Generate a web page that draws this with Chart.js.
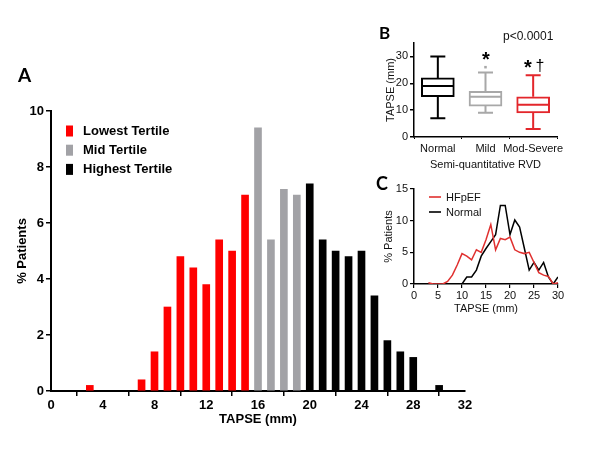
<!DOCTYPE html>
<html>
<head>
<meta charset="utf-8">
<script src="https://cdn.jsdelivr.net/npm/chart.js@4"></script>
<style>
html,body{margin:0;padding:0;background:#fff;}
#wrap{position:relative;width:600px;height:450px;overflow:hidden;background:#fff;}
#wrap canvas{position:absolute;left:0;top:0;}
</style>
</head>
<body>
<div id="wrap">
<canvas id="cA" width="600" height="450"></canvas>
<canvas id="cB" width="600" height="450"></canvas>
<canvas id="cC" width="600" height="450"></canvas>
</div>
<script>
// ---------------- Panel A: TAPSE histogram by tertile ----------------
const tertileLabels = ['Lowest Tertile', 'Mid Tertile', 'Highest Tertile'];
const lowestTapse = [3, 7, 8, 9, 10, 11, 12, 13, 14, 15];
const lowestPct   = [0.2, 0.4, 1.4, 3.0, 4.8, 4.4, 3.8, 5.4, 5.0, 7.0];
const midTapse    = [16, 17, 18, 19];
const midPct      = [9.4, 5.4, 7.2, 7.0];
const highTapse   = [20, 21, 22, 23, 24, 25, 26, 27, 28, 30];
const highPct     = [7.4, 5.4, 5.0, 4.8, 5.0, 3.4, 1.8, 1.4, 1.2, 0.2];
const histXTicks  = [0, 4, 8, 12, 16, 20, 24, 28, 32];
const histYTicks  = [0, 2, 4, 6, 8, 10];

// ---------------- Panel B: box plots by RVD ----------------
const rvdCategories = ['Normal', 'Mild', 'Mod-Severe'];
const boxMin    = [7, 9, 3];
const boxQ1     = [15, 11.5, 9];
const boxMedian = [19, 15, 12];
const boxQ3     = [22, 17, 15];
const boxMax    = [30, 24, 23];
const mildOutlier = [26];
const boxYTicks = [0, 10, 20, 30];

// ---------------- Panel C: distribution lines ----------------
const hfpefTapse = [3, 4, 5, 6, 7, 8, 9, 10, 11, 12, 13, 14, 15, 16, 17, 18, 19, 20, 21, 22, 23, 24, 25, 26, 27, 28, 29, 30];
const hfpefPct   = [0.2, 0, 0, 0, 0.4, 1.4, 3.0, 4.8, 4.4, 3.8, 5.4, 5.0, 7.0, 9.4, 5.4, 7.2, 7.0, 7.4, 5.4, 5.0, 4.8, 5.0, 3.4, 1.8, 1.4, 1.2, 0, 0.2];
const normalTapse = [10, 11, 12, 13, 14, 15, 16, 17, 18, 19, 20, 21, 22, 23, 24, 25, 26, 27, 28, 29, 30];
const normalPct   = [0, 1.1, 1.1, 2.2, 4.4, 5.6, 6.7, 7.8, 12.4, 12.4, 7.8, 10.1, 9.0, 5.6, 2.2, 3.4, 2.2, 3.4, 1.1, 0, 1.1];
const lineXTicks = [0, 5, 10, 15, 20, 25, 30];
const lineYTicks = [0, 5, 10, 15];

// ---------------- styling ----------------
const FONT = "'Liberation Sans', Arial, sans-serif";
const RED = '#ff0000', GRAY = '#a2a2a6', BLACK = '#000000';
const B_COLORS = ['#000000', '#a8a8a8', '#e3262b'];
const C_RED = '#e0302f';

const setTicks = vals => s => { s.ticks = vals.map(v => ({ value: v })); };
const xy = (xs, ys) => xs.map((x, i) => ({ x: x, y: ys[i] }));

// legend plugin (draws from the dataset labels/colours)
const panelLegend = {
  id: 'panelLegend',
  afterDraw(chart, args, o) {
    if (!o || o.x0 === undefined) return;
    const ctx = chart.ctx;
    ctx.save();
    let row = 0;
    chart.data.datasets.forEach(ds => {
      if (ds.noLegend) return;
      const y = o.y0 + row * o.dy;
      if (o.kind === 'box') {
        ctx.fillStyle = ds.backgroundColor;
        ctx.fillRect(o.x0, y - o.h / 2, o.w, o.h);
      } else {
        ctx.strokeStyle = ds.borderColor;
        ctx.lineWidth = 1.6;
        ctx.beginPath();
        ctx.moveTo(o.x0, y); ctx.lineTo(o.x0 + o.w, y);
        ctx.stroke();
      }
      ctx.fillStyle = o.color;
      ctx.font = o.font;
      ctx.textBaseline = 'middle';
      ctx.textAlign = 'left';
      ctx.fillText(ds.label, o.tx, y + 0.5);
      row++;
    });
    ctx.restore();
  }
};
Chart.register(panelLegend);

// ---------------- Chart A ----------------
new Chart(document.getElementById('cA'), {
  type: 'bar',
  data: {
    datasets: [
      { label: tertileLabels[0], data: xy(lowestTapse, lowestPct), backgroundColor: RED },
      { label: tertileLabels[1], data: xy(midTapse, midPct), backgroundColor: GRAY },
      { label: tertileLabels[2], data: xy(highTapse, highPct), backgroundColor: BLACK }
    ]
  },
  options: {
    responsive: false, animation: false, devicePixelRatio: 1,
    layout: { padding: { left: 11, top: 111, right: 135, bottom: 19 } },
    datasets: { bar: { grouped: false, barThickness: 7, borderWidth: 0 } },
    plugins: {
      legend: { display: false }, tooltip: { enabled: false },
      panelLegend: { kind: 'box', x0: 66, y0: 131, dy: 19.2, w: 7, h: 11, tx: 83,
        font: 'bold 13px ' + FONT, color: '#000' }
    },
    scales: {
      x: {
        type: 'linear', min: 0, max: 32, offset: false,
        afterBuildTicks: setTicks(histXTicks),
        afterFit: s => { s.height = 40; },
        grid: { display: true, drawOnChartArea: false, color: '#000', tickLength: 5, lineWidth: 1.5 },
        border: { display: true, color: '#000', width: 2 },
        ticks: { color: '#000', padding: 2, maxRotation: 0, font: { family: FONT, size: 13, weight: 'bold' } },
        title: { display: true, text: 'TAPSE (mm)', color: '#000', font: { family: FONT, size: 13, weight: 'bold' } }
      },
      y: {
        min: 0, max: 10,
        afterBuildTicks: setTicks(histYTicks),
        afterFit: s => { s.width = 40; },
        grid: { display: true, drawOnChartArea: false, color: '#000', tickLength: 5, lineWidth: 1.5 },
        border: { display: true, color: '#000', width: 2 },
        ticks: { color: '#000', padding: 2, font: { family: FONT, size: 13, weight: 'bold' } },
        title: { display: true, text: '% Patients', color: '#000', font: { family: FONT, size: 13, weight: 'bold' } }
      }
    }
  }
});

// ---------------- Chart B ----------------
const whiskers = {
  id: 'whiskers',
  afterDatasetsDraw(chart) {
    const { ctx, scales: { x, y } } = chart;
    ctx.save();
    ctx.lineWidth = 2;
    rvdCategories.forEach((c, i) => {
      const cx = x.getPixelForValue(i + 1);
      const half = 16, cap = 7.5;
      ctx.strokeStyle = B_COLORS[i];
      ctx.beginPath();
      const ym = y.getPixelForValue(boxMedian[i]);
      ctx.moveTo(cx - half, ym); ctx.lineTo(cx + half, ym);
      const yq3 = y.getPixelForValue(boxQ3[i]), ymax = y.getPixelForValue(boxMax[i]);
      ctx.moveTo(cx, yq3); ctx.lineTo(cx, ymax);
      ctx.moveTo(cx - cap, ymax); ctx.lineTo(cx + cap, ymax);
      const yq1 = y.getPixelForValue(boxQ1[i]), ymin = y.getPixelForValue(boxMin[i]);
      ctx.moveTo(cx, yq1); ctx.lineTo(cx, ymin);
      ctx.moveTo(cx - cap, ymin); ctx.lineTo(cx + cap, ymin);
      ctx.stroke();
    });
    ctx.restore();
  }
};

new Chart(document.getElementById('cB'), {
  type: 'bar',
  data: {
    datasets: [
      { label: 'box', noLegend: true,
        data: rvdCategories.map((c, i) => ({ x: i + 1, y: [boxQ1[i], boxQ3[i]] })),
        backgroundColor: '#ffffff', borderColor: B_COLORS, borderWidth: 2, borderSkipped: false,
        barThickness: 33, grouped: false },
      { type: 'scatter', label: 'outlier', noLegend: true,
        data: mildOutlier.map(v => ({ x: 2, y: v })),
        pointStyle: 'rect', pointRadius: 1.8, backgroundColor: B_COLORS[1], borderWidth: 0 }
    ]
  },
  plugins: [whiskers],
  options: {
    responsive: false, animation: false, devicePixelRatio: 1,
    layout: { padding: { left: 380, top: 43, right: 43, bottom: 274 } },
    plugins: { legend: { display: false }, tooltip: { enabled: false } },
    scales: {
      x: {
        type: 'linear', min: 0.5, max: 3.5, offset: false,
        afterBuildTicks: setTicks([1, 2, 3]),
        afterFit: s => { s.height = 39; },
        grid: { display: true, drawOnChartArea: false, drawTicks: true, tickLength: 2, color: '#000' },
        border: { display: true, color: '#000', width: 1.5 },
        ticks: { color: '#111', padding: 3, maxRotation: 0, font: { family: FONT, size: 11 },
          callback: v => rvdCategories[v - 1] },
        title: { display: true, text: 'Semi-quantitative RVD', color: '#111', font: { family: FONT, size: 11 } }
      },
      y: {
        min: 0, max: 35,
        afterBuildTicks: setTicks(boxYTicks),
        afterFit: s => { s.width = 34; },
        grid: { display: true, drawOnChartArea: false, color: '#000', tickLength: 4, lineWidth: 1.5 },
        border: { display: true, color: '#000', width: 1.5 },
        ticks: { color: '#111', padding: 2, font: { family: FONT, size: 11 } },
        title: { display: true, text: 'TAPSE (mm)', color: '#111', font: { family: FONT, size: 11 } }
      }
    }
  }
});

// ---------------- Chart C ----------------
const annotations = {
  id: 'annotations',
  afterDraw(chart) {
    const ctx = chart.ctx;
    ctx.save();
    ctx.fillStyle = '#000';
    ctx.textBaseline = 'alphabetic';
    ctx.textAlign = 'left';
    ctx.font = "bold 19px Lato, 'Liberation Sans', sans-serif";
    ctx.fillText('A', 18, 82);
    ctx.font = "bold 17px Lato, 'Liberation Sans', sans-serif";
    ctx.fillText('B', 379, 39);
    ctx.font = "bold 18px Lato, 'Liberation Sans', sans-serif";
    ctx.fillText('C', 376, 190);
    ctx.font = '12px ' + FONT;
    ctx.fillStyle = '#111';
    ctx.fillText('p<0.0001', 503, 40);
    ctx.fillStyle = '#000';
    ctx.textAlign = 'center';
    ctx.font = 'bold 20px ' + FONT;
    ctx.fillText('*', 486, 66);
    ctx.fillText('*', 528, 74);
    ctx.font = '16px ' + FONT;
    ctx.fillText('\u2020', 540, 71);
    ctx.restore();
  }
};

new Chart(document.getElementById('cC'), {
  type: 'line',
  data: {
    datasets: [
      { label: 'HFpEF', data: xy(hfpefTapse, hfpefPct), borderColor: C_RED, borderWidth: 1.5,
        pointRadius: 0, fill: false, tension: 0 },
      { label: 'Normal', data: xy(normalTapse, normalPct), borderColor: '#000', borderWidth: 1.5,
        pointRadius: 0, fill: false, tension: 0 }
    ]
  },
  plugins: [annotations],
  options: {
    responsive: false, animation: false, devicePixelRatio: 1,
    layout: { padding: { left: 378, top: 189, right: 42, bottom: 130 } },
    plugins: {
      legend: { display: false }, tooltip: { enabled: false },
      panelLegend: { kind: 'line', x0: 429, y0: 197, dy: 15, w: 12, h: 0, tx: 446,
        font: '11px ' + FONT, color: '#111' }
    },
    scales: {
      x: {
        type: 'linear', min: 0, max: 30,
        afterBuildTicks: setTicks(lineXTicks),
        afterFit: s => { s.height = 36; },
        grid: { display: true, drawOnChartArea: false, color: '#000', tickLength: 4, lineWidth: 1.2 },
        border: { display: true, color: '#000', width: 1.5 },
        ticks: { color: '#111', padding: 1, maxRotation: 0, font: { family: FONT, size: 11 } },
        title: { display: true, text: 'TAPSE (mm)', color: '#111', font: { family: FONT, size: 11 } }
      },
      y: {
        min: 0, max: 15,
        afterBuildTicks: setTicks(lineYTicks),
        afterFit: s => { s.width = 36; },
        grid: { display: true, drawOnChartArea: false, color: '#000', tickLength: 4, lineWidth: 1.2 },
        border: { display: true, color: '#000', width: 1.5 },
        ticks: { color: '#111', padding: 2, font: { family: FONT, size: 11 } },
        title: { display: true, text: '% Patients', color: '#111', font: { family: FONT, size: 11 } }
      }
    }
  }
});
</script>
</body>
</html>
